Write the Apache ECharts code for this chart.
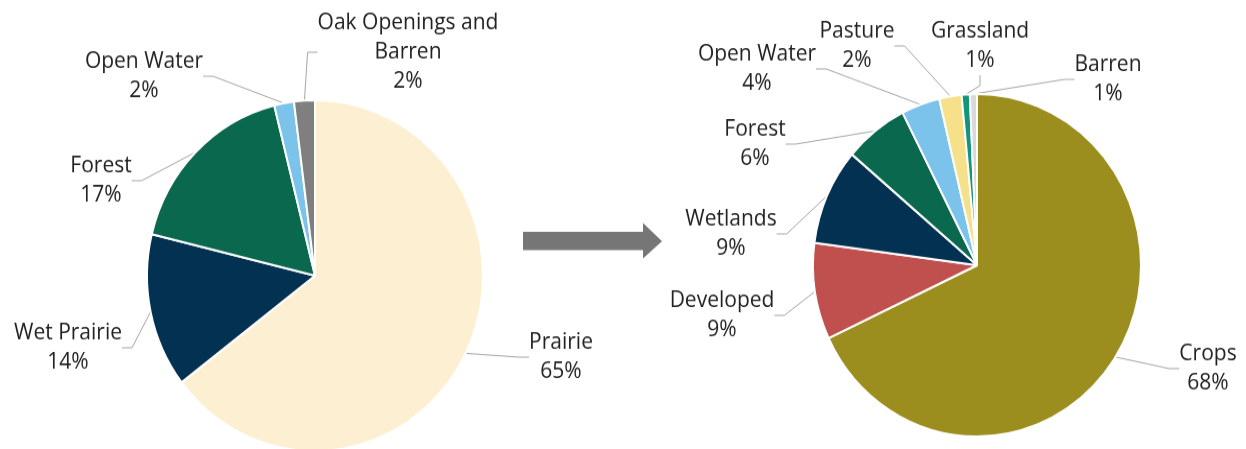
<!DOCTYPE html>
<html>
<head>
<meta charset="utf-8">
<script src="https://cdn.jsdelivr.net/npm/echarts@6/dist/echarts.min.js"></script>
<style>
  html, body { margin: 0; padding: 0; background: #fff; overflow: hidden; }
  /* the source picture is slightly stretched vertically, so stretch the chart too */
  #chart { width: 1246px; height: 449px; transform: scaleY(1.0442); transform-origin: 0 0; }
</style>
</head>
<body>
<div id="chart"></div>
<script>
// before: pre-settlement land cover
var beforeNames = ['Prairie', 'Wet Prairie', 'Forest', 'Open Water', 'Oak Openings and\nBarren'];
var beforeValues = [64.6, 14.2, 17.3, 1.9, 2.0];
var beforeColors = ['#FDF0D2', '#023152', '#0A684F', '#7CC3EC', '#7F7F7F'];

// after: current land cover
var afterNames = ['Crops', 'Developed', 'Wetlands', 'Forest', 'Open Water', 'Pasture', 'Grassland', 'Barren'];
var afterValues = [68.0, 9.1, 9.1, 6.3, 3.8, 2.2, 0.8, 0.7];
var afterColors = ['#9C8E1E', '#C0504D', '#023152', '#0A684F', '#7CC3EC', '#F6E08A', '#13957A', '#D9D9D9'];

// label anchor spots (centre of each label block)
var beforeLabelPos = [[561, 342], [68, 333], [101, 173], [144, 73], [408, 50]];
var afterLabelPos = [[1208, 353], [722, 302], [731, 224], [755, 138], [757, 66], [857, 44], [980, 44], [1108, 76]];

var myChart = echarts.init(document.getElementById('chart'));

function makeData(names, values, colors) {
	var out = [];
	for (let i = 0; i < names.length; i++) {
		out.push({ name: names[i], value: values[i], itemStyle: { color: colors[i] } });
	}
	return out;
}

function pieSeries(names, values, colors, center, radius, labelPos) {
	return {
		type: 'pie',
		center: center,
		radius: radius,
		startAngle: 90,
		clockwise: true,
		avoidLabelOverlap: false,
		animation: false,
		itemStyle: { borderColor: '#fff', borderWidth: 2 },
		label: {
			show: true,
			position: 'outside',
			fontFamily: 'Open Sans',
			fontSize: 21,
			lineHeight: 28,
			color: '#222',
			align: 'center',
			formatter: function (p) {
				return p.name + '\n' + Math.round(p.value) + '%';
			}
		},
		labelLine: {
			show: true,
			length: 10,
			length2: 10,
			lineStyle: { color: '#A6A6A6', width: 1 }
		},
		labelLayout: function (params) {
			var pos = labelPos[params.dataIndex];
			return { x: pos[0], y: pos[1], align: 'center', verticalAlign: 'middle' };
		},
		emphasis: { disabled: true },
		data: makeData(names, values, colors)
	};
}

var option = {
	backgroundColor: '#fff',
	graphic: [{
		type: 'polygon',
		shape: {
			points: [[523, 222], [643, 222], [643, 213.5], [662, 231], [643, 247.5], [643, 239.5], [523, 239.5]]
		},
		style: { fill: '#767676' }
	}],
	series: [
		pieSeries(beforeNames, beforeValues, beforeColors, [315, 264], 168, beforeLabelPos),
		pieSeries(afterNames, afterValues, afterColors, [977, 254], 164, afterLabelPos)
	]
};

myChart.setOption(option);
</script>
</body>
</html>
